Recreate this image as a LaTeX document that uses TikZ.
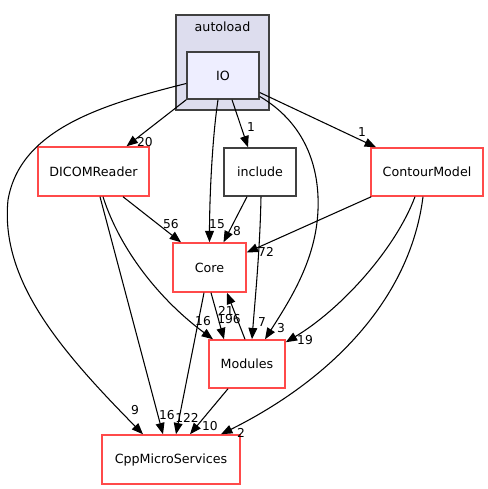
\documentclass[tikz,border=0pt]{standalone}
\usepackage{fontspec}
\setmainfont{DejaVu Sans}
\usetikzlibrary{arrows.meta,calc}
\definecolor{redb}{HTML}{FF4A4A}
\definecolor{grayb}{HTML}{404040}
\definecolor{clfill}{HTML}{DDDDEE}
\definecolor{iofill}{HTML}{EEEEFF}
\tikzset{
  box/.style={draw=redb, line width=1.1pt, fill=white, inner sep=0pt, font=\fontsize{9.5pt}{11pt}\selectfont},
  gbox/.style={draw=grayb, line width=1.1pt, fill=white, inner sep=0pt, font=\fontsize{9.5pt}{11pt}\selectfont},
  cluster/.style={draw=grayb, line width=1.1pt, fill=clfill, inner sep=0pt},
  edge/.style={draw=black, line width=0.8pt, -{Triangle[length=8.5pt,width=6.6pt]}},
  elab/.style={font=\fontsize{9.2pt}{10pt}\selectfont, inner sep=0pt}
}
\begin{document}
\begin{tikzpicture}[x=0.75pt,y=-0.75pt]
\useasboundingbox (0,0) rectangle (488,489);
% cluster
\node[cluster, minimum width=93*0.75pt, minimum height=95*0.75pt] (autoload) at (222.5,62.5) {};
\node[font=\fontsize{9.5pt}{11pt}\selectfont, inner sep=0pt] (autoloadlab) at (222.5,27) {autoload};
% nodes
\node[gbox, fill=iofill, minimum width=72*0.75pt, minimum height=47*0.75pt] (io) at (223,75.5) {IO};
\node[box, minimum width=111*0.75pt, minimum height=49*0.75pt] (dicom) at (93.5,171.5) {DICOMReader};
\node[gbox, minimum width=72*0.75pt, minimum height=48*0.75pt] (include) at (260,172) {include};
\node[box, minimum width=112*0.75pt, minimum height=48*0.75pt] (contour) at (427,172) {ContourModel};
\node[box, minimum width=73*0.75pt, minimum height=49*0.75pt] (core) at (209.5,267.5) {Core};
\node[box, minimum width=76*0.75pt, minimum height=48*0.75pt] (modules) at (247,364) {Modules};
\node[box, minimum width=138*0.75pt, minimum height=49*0.75pt] (cpp) at (171,459.5) {CppMicroServices};
% edges
\draw[edge] (io.south west) -- ($(dicom.north)+(33,0)$);
\node[elab] (l1) at (145,142.5) {20};
\draw[edge] ($(io.west)+(0,8)$) .. controls (100,105) and (20,130) .. (8,200) .. controls (0,280) and (60,350) .. ($(cpp.north)+(-28,0)$);
\node[elab] (l2) at (135,410) {9};
\draw[edge] ($(io.south)+(-5,0)$) .. controls (212,140) and (209.5,200) .. (core.north);
\node[elab] (l3) at (217,224) {15};
\draw[edge] ($(io.south)+(9,0)$) -- ($(include.north)+(-12,0)$);
\node[elab] (l4) at (251,127) {1};
\draw[edge] ($(io.east)+(0,17)$) -- ($(contour.north)+(-51,0)$);
\node[elab] (l5) at (362,132) {1};
\draw[edge] ($(io.east)+(0,21)$) .. controls (300,120) and (320,160) .. (318,210) .. controls (316,260) and (290,300) .. ($(modules.north)+(18,0)$);
\node[elab] (l6) at (281,328) {3};
\draw[edge] ($(include.south)+(-13,0)$) -- ($(core.north)+(14,0)$);
\node[elab] (l7) at (237,231) {8};
\draw[edge] ($(include.south)+(1,0)$) .. controls (260,250) and (255,300) .. ($(modules.north)+(5,0)$);
\node[elab] (l8) at (262,322) {7};
\draw[edge] ($(contour.south west)+(1,0)$) -- ($(core.east)+(0,-15)$);
\node[elab] (l9) at (266,252) {72};
\draw[edge] ($(contour.south)+(-12,0)$) .. controls (395,250) and (340,310) .. ($(modules.north east)+(0,3)$);
\node[elab] (l10) at (305,340) {19};
\draw[edge] ($(contour.south)+(-4,0)$) .. controls (410,300) and (330,380) .. ($(cpp.north)+(50,0)$);
\node[elab] (l11) at (241,433) {2};
\draw[edge] ($(dicom.south)+(29.5,0)$) -- ($(core.north)+(-28.5,0)$);
\node[elab] (l12) at (171,224) {56};
\draw[edge] ($(dicom.south)+(9.5,0)$) .. controls (120,250) and (160,300) .. ($(modules.north)+(-34,0)$);
\node[elab] (l13) at (203,321) {16};
\draw[edge] ($(dicom.south)+(6.5,0)$) -- ($(cpp.north)+(-8,0)$);
\node[elab] (l14) at (167,415) {16};
\draw[edge] ($(core.south)+(1.5,0)$) -- ($(modules.north)+(-23,0)$);
\node[elab] (l15) at (229,319) {196};
\draw[edge] ($(modules.north)+(-2,0)$) -- ($(core.south)+(17.5,0)$);
\node[elab] (l16) at (226,311) {21};
\draw[edge] ($(core.south)+(-5.5,0)$) -- ($(cpp.north)+(5,0)$);
\node[elab] (l17) at (187,418) {122};
\draw[edge] ($(modules.south)+(-19,0)$) -- ($(cpp.north)+(19,0)$);
\node[elab] (l18) at (210,426) {10};
\end{tikzpicture}
\end{document}
